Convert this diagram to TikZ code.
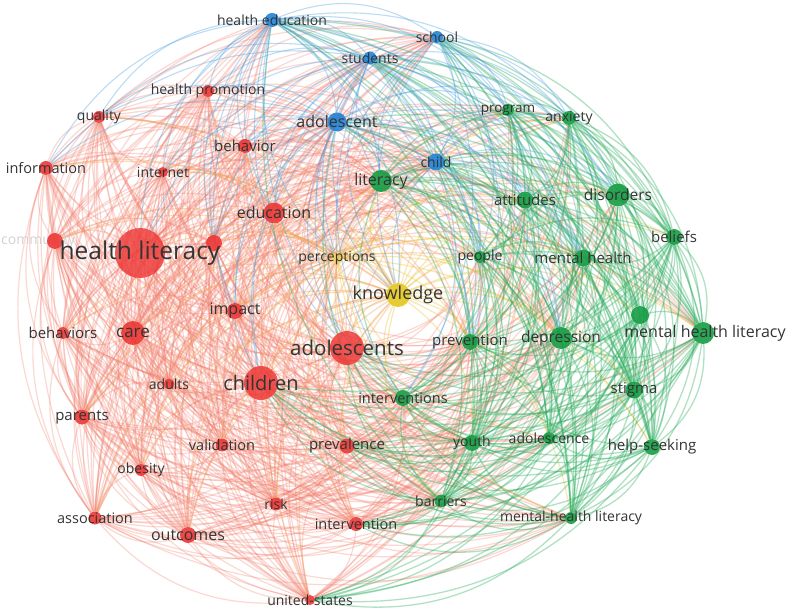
\documentclass[tikz,border=0pt]{standalone}
\usepackage{fontspec}
\setmainfont{Open Sans}
\usetikzlibrary{calc}
\pgfdeclarelayer{bg}
\pgfsetlayers{bg,main}

\definecolor{rnc}{RGB}{236,50,48}
\definecolor{gnc}{RGB}{14,154,62}
\definecolor{bnc}{RGB}{26,128,214}
\definecolor{ync}{RGB}{228,196,24}
\definecolor{rec}{RGB}{244,126,108}
\definecolor{gec}{RGB}{40,172,92}
\definecolor{bec}{RGB}{72,158,224}
\definecolor{yec}{RGB}{236,196,60}
\definecolor{oec}{RGB}{244,164,84}
\definecolor{txt}{RGB}{52,52,52}

\tikzset{
  kw/.style={circle,inner sep=0pt,fill opacity=.88},
  rn/.style={kw,fill=rnc},
  gn/.style={kw,fill=gnc},
  bn/.style={kw,fill=bnc},
  yn/.style={kw,fill=ync},
  lbl/.style={font=\fontsize{#1}{#1}\selectfont,text=txt,inner sep=0pt},
  lbl/.default=14,
  redge/.style={draw=rec,draw opacity=.3,line width=1.2pt},
  gedge/.style={draw=gec,draw opacity=.36,line width=1.3pt},
  bedge/.style={draw=bec,draw opacity=.36,line width=1.1pt},
  yedge/.style={draw=yec,draw opacity=.38,line width=1.2pt},
  oedge/.style={draw=oec,draw opacity=.38,line width=1.2pt},
}

% curved link, always bent away from the middle of the map
\newcommand{\lnk}[3]{%
  \draw[#1] let \p1=(#2.center), \p2=(#3.center), \p3=(ctr) in
    \pgfextra{\pgfmathparse{((((\x1-\x3)/100)*((\y2-\y1)/100)-((\y1-\y3)/100)*((\x2-\x1)/100))<0) ? 28 : -28}\xdef\bendang{\pgfmathresult}}
    (#2) to[bend left=\bendang] (#3);}

\def\reds{hlit,hprom,quality,behavior,info,internet,educ,comm,rx,impact,behaviors,care,adolescents,children,adults,parents,validation,prevalence,obesity,risk,association,outcomes,intervention,usa}
\def\greens{literacy,program,anxiety,attitudes,disorders,beliefs,people,mhealth,gx,mhl,prevention,depression,interventions,stigma,youth,adolescence,helpseek,barriers,mhlit}
\def\greentop{literacy,program,anxiety,attitudes,disorders,people,mhealth,prevention,depression,interventions}
\def\greenlow{beliefs,gx,mhl,stigma,youth,adolescence,helpseek,barriers,mhlit}
\def\blues{hedu,school,students,adolescent,child}
\def\redhubs{hlit,adolescents,children,care,educ,impact,prevalence,intervention,usa,outcomes,association,risk,parents}
\def\redmid{adolescents,children,prevalence,intervention,usa}
\def\redside{hlit,care,educ,impact,outcomes,association,risk,parents}
\def\redrest{hprom,quality,behavior,info,internet,comm,rx,behaviors,adults,validation,obesity}
\def\greenhubs{literacy,depression,mhl,prevention,interventions,youth,barriers,mhlit}
\def\redtop{hlit,hprom,quality,behavior,info,internet,educ,rx,impact,adolescents,children}
\def\redlow{comm,behaviors,care,adults,parents,validation,prevalence,obesity,risk,association,outcomes,intervention,usa}

\begin{document}
\begin{tikzpicture}[x=1pt,y=-1pt]
\useasboundingbox (0,0) rectangle (787,609);
\coordinate (ctr) at (400,300);

\node[lbl=14,text=txt!22,anchor=west] (commtxt) at (1,241) {community};

% blue cluster
\node[bn,minimum size=14] (hedu) at (272,20) {};
\node[bn,minimum size=12] (school) at (437,37) {};
\node[bn,minimum size=13] (students) at (370,58) {};
\node[bn,minimum size=19] (adolescent) at (337,122) {};
\node[bn,minimum size=17] (child) at (436,162) {};

% green cluster
\node[gn,minimum size=22] (literacy) at (381,181) {};
\node[gn,minimum size=12] (program) at (508,110) {};
\node[gn,minimum size=14] (anxiety) at (569,118) {};
\node[gn,minimum size=17] (attitudes) at (525,200) {};
\node[gn,minimum size=23] (disorders) at (618,195) {};
\node[gn,minimum size=16] (beliefs) at (674,237) {};
\node[gn,minimum size=12] (people) at (480,257) {};
\node[gn,minimum size=17] (mhealth) at (583,258) {};
\node[gn,minimum size=18] (gx) at (640,315) {};
\node[gn,minimum size=22] (mhl) at (703,333) {};
\node[gn,minimum size=16] (prevention) at (470,342) {};
\node[gn,minimum size=22] (depression) at (561,338) {};
\node[gn,minimum size=16] (interventions) at (403,398) {};
\node[gn,minimum size=17] (stigma) at (634,390) {};
\node[gn,minimum size=16] (youth) at (472,443) {};
\node[gn,minimum size=12] (adolescence) at (549,438) {};
\node[gn,minimum size=16] (helpseek) at (652,447) {};
\node[gn,minimum size=13] (barriers) at (441,501) {};
\node[gn,minimum size=12] (mhlit) at (571,518) {};

% yellow cluster
\node[yn,minimum size=12,fill opacity=.55] (perceptions) at (337,258) {};
\node[yn,minimum size=24] (knowledge) at (398,295) {};

% red cluster
\node[rn,minimum size=50,fill opacity=.8] (hlit) at (140,253) {};
\node[rn,minimum size=12] (hprom) at (208,91) {};
\node[rn,minimum size=12] (quality) at (99,117) {};
\node[rn,minimum size=14] (behavior) at (245,146) {};
\node[rn,minimum size=14] (info) at (46,168) {};
\node[rn,minimum size=10] (internet) at (163,172) {};
\node[rn,minimum size=21] (educ) at (274,213) {};
\node[rn,minimum size=16] (comm) at (55,241) {};
\node[rn,minimum size=16] (rx) at (214,243) {};
\node[rn,minimum size=16] (impact) at (235,311) {};
\node[rn,minimum size=12] (behaviors) at (63,333) {};
\node[rn,minimum size=24] (care) at (133,333) {};
\node[rn,minimum size=34,fill opacity=.82] (adolescents) at (347,348) {};
\node[rn,minimum size=34,fill opacity=.82] (children) at (261,383) {};
\node[rn,minimum size=11] (adults) at (169,384) {};
\node[rn,minimum size=15] (parents) at (82,417) {};
\node[rn,minimum size=13] (validation) at (222,445) {};
\node[rn,minimum size=15] (prevalence) at (347,446) {};
\node[rn,minimum size=12] (obesity) at (141,470) {};
\node[rn,minimum size=13] (risk) at (276,504) {};
\node[rn,minimum size=13] (association) at (95,518) {};
\node[rn,minimum size=16] (outcomes) at (188,535) {};
\node[rn,minimum size=14] (intervention) at (356,524) {};
\node[rn,minimum size=10] (usa) at (310,600) {};

% labels
\node[lbl=14] (hedu-l) at (hedu) {health education};
\node[lbl=14] (school-l) at (school) {school};
\node[lbl=14] (students-l) at (students) {students};
\node[lbl=16] (adolescent-l) at (adolescent) {adolescent};
\node[lbl=14] (child-l) at (child) {child};
\node[lbl=16] (literacy-l) at (literacy) {literacy};
\node[lbl=13.5] (program-l) at (program) {program};
\node[lbl=14] (anxiety-l) at (anxiety) {anxiety};
\node[lbl=15] (attitudes-l) at (attitudes) {attitudes};
\node[lbl=15.5] (disorders-l) at (disorders) {disorders};
\node[lbl=15] (beliefs-l) at (beliefs) {beliefs};
\node[lbl=14] (people-l) at (people) {people};
\node[lbl=15] (mhealth-l) at (mhealth) {mental health};
\node[lbl=16] (mhl-l) at (705,333) {mental health literacy};
\node[lbl=15] (prevention-l) at (prevention) {prevention};
\node[lbl=15.5] (depression-l) at (depression) {depression};
\node[lbl=14.5] (interventions-l) at (interventions) {interventions};
\node[lbl=15] (stigma-l) at (stigma) {stigma};
\node[lbl=14] (youth-l) at (youth) {youth};
\node[lbl=14] (adolescence-l) at (adolescence) {adolescence};
\node[lbl=15] (helpseek-l) at (helpseek) {help-seeking};
\node[lbl=14] (barriers-l) at (barriers) {barriers};
\node[lbl=14] (mhlit-l) at (mhlit) {mental-health literacy};
\node[lbl=14] (perceptions-l) at (perceptions) {perceptions};
\node[lbl=18] (knowledge-l) at (knowledge) {knowledge};
\node[lbl=24.5] (hlit-l) at (hlit) {health literacy};
\node[lbl=14] (hprom-l) at (hprom) {health promotion};
\node[lbl=14] (quality-l) at (quality) {quality};
\node[lbl=15] (behavior-l) at (behavior) {behavior};
\node[lbl=14.5] (info-l) at (info) {information};
\node[lbl=14] (internet-l) at (internet) {internet};
\node[lbl=16] (educ-l) at (educ) {education};
\node[lbl=16] (impact-l) at (impact) {impact};
\node[lbl=15] (behaviors-l) at (behaviors) {behaviors};
\node[lbl=17] (care-l) at (care) {care};
\node[lbl=20.5] (adolescents-l) at (adolescents) {adolescents};
\node[lbl=20] (children-l) at (children) {children};
\node[lbl=14] (adults-l) at (adults) {adults};
\node[lbl=15] (parents-l) at (parents) {parents};
\node[lbl=14.5] (validation-l) at (validation) {validation};
\node[lbl=15] (prevalence-l) at (prevalence) {prevalence};
\node[lbl=14] (obesity-l) at (obesity) {obesity};
\node[lbl=14] (risk-l) at (risk) {risk};
\node[lbl=14.5] (association-l) at (association) {association};
\node[lbl=16] (outcomes-l) at (outcomes) {outcomes};
\node[lbl=14.5] (intervention-l) at (intervention) {intervention};
\node[lbl=14] (usa-l) at (usa) {united-states};

\begin{pgfonlayer}{bg}
\fill[white] (0,0) rectangle (787,609);
% red links
\foreach \a [count=\i] in \reds {
  \foreach \b [count=\j] in \reds {\ifnum\j>\i\relax\lnk{redge}{\a}{\b}\fi}
}
\foreach \a in \redhubs {\foreach \b in \greentop {\lnk{redge}{\a}{\b}}}
\foreach \a in \redside {\foreach \b in {youth,adolescence,barriers,mhlit} {\lnk{redge}{\a}{\b}}}
\foreach \a in \greenhubs {\foreach \b in \redrest {\lnk{redge}{\a}{\b}}}
\foreach \a in \blues {\foreach \b in \redlow {\lnk{redge}{\a}{\b}}}
\foreach \a in {school,child} {\foreach \b in \redtop {\lnk{redge}{\a}{\b}}}
% yellow links
\lnk{yedge}{perceptions}{knowledge}
\foreach \a in {perceptions,knowledge} {
  \foreach \b in \reds {\lnk{oedge}{\a}{\b}}
  \foreach \b in \greens {\lnk{yedge}{\a}{\b}}
}
% green links
\foreach \a in \redmid {\foreach \b in \greenlow {\lnk{gedge}{\a}{\b}}}
\foreach \a [count=\i] in \greens {
  \foreach \b [count=\j] in \greens {\ifnum\j>\i\relax\lnk{gedge}{\a}{\b}\fi}
}
\foreach \a in \blues {\foreach \b in \greenlow {\lnk{gedge}{\a}{\b}}}
% blue links
\foreach \a in {hedu,students,adolescent} {\foreach \b in \redtop {\lnk{bedge}{\a}{\b}}}
\foreach \a in \blues {
  \foreach \b in \greentop {\lnk{bedge}{\a}{\b}}
  \foreach \b in {perceptions,knowledge} {\lnk{bedge}{\a}{\b}}
}
\foreach \a [count=\i] in \blues {
  \foreach \b [count=\j] in \blues {\ifnum\j>\i\relax\lnk{bedge}{\a}{\b}\fi}
}
\end{pgfonlayer}
\end{tikzpicture}
\end{document}
